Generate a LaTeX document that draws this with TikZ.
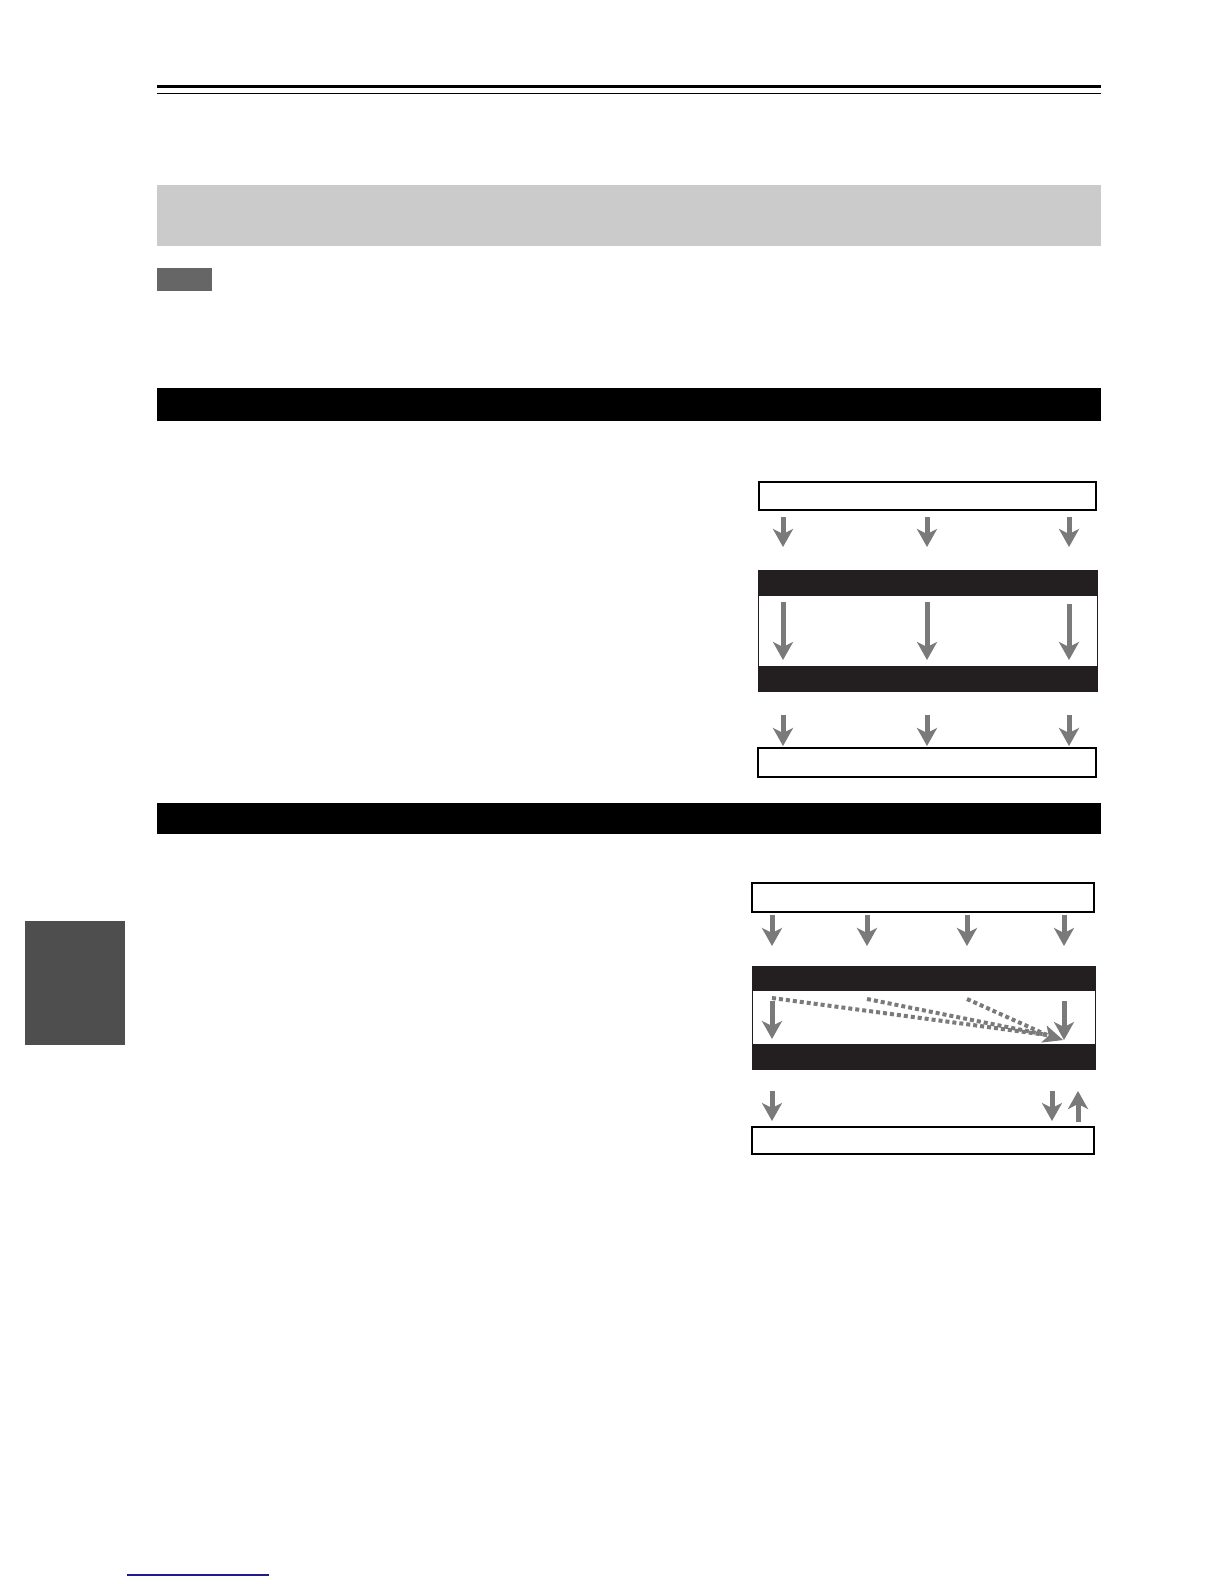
\documentclass[tikz,border=0pt]{standalone}
\usetikzlibrary{arrows.meta}
\definecolor{arrowgrey}{HTML}{7A7A7A}
\definecolor{bandgrey}{HTML}{CBCBCB}
\definecolor{notegrey}{HTML}{666666}
\definecolor{tabgrey}{HTML}{4E4E4E}
\definecolor{barblack}{HTML}{231F20}
\definecolor{linkblue}{HTML}{1C1C8A}
\tikzset{
  outbox/.style={draw=black, line width=1.1pt, fill=white, inner sep=0pt},
  framebox/.style={draw=barblack, line width=0.9pt, fill=white, inner sep=0pt},
  garrow/.style={draw=arrowgrey, line width=5pt, -{Stealth[length=18pt,width=20pt,inset=5pt]}},
  dotline/.style={draw=arrowgrey, line width=4pt, dash pattern=on 4pt off 3pt},
}
\begin{document}
\begin{tikzpicture}[x=1pt,y=-1pt]
\useasboundingbox (0,0) rectangle (1224,1584);
\fill[white] (0,0) rectangle (1224,1584);

% header rules
\fill[black] (157,85) rectangle (1101,88);
\fill[black] (157,92.6) rectangle (1101,94);

% grey band and note tag
\fill[bandgrey] (157,185) rectangle (1101,246);
\fill[notegrey] (157,268) rectangle (212,291);

% section bars
\fill[black] (157,388) rectangle (1101,421);
\fill[black] (157,803) rectangle (1101,834);

% side tab
\fill[tabgrey] (25,921) rectangle (125,1045);

% bottom link line
\draw[linkblue, line width=1.5pt] (127,1575) -- (269,1575);

% ---------- diagram 1 ----------
\node[outbox, minimum width=337pt, minimum height=28pt] (atop) at (927.5,496) {};
\node[framebox, minimum width=339pt, minimum height=121pt] (aframe) at (927.5,630.5) {};
\fill[barblack] (758,570) rectangle (1097,596);
\fill[barblack] (758,666) rectangle (1097,691);
\node[outbox, minimum width=338pt, minimum height=29pt] (abot) at (927,762.5) {};

\foreach \x/\n in {783/a, 927/b, 1069/c}{
  \coordinate (a1s\n) at (\x,517);
  \coordinate (a1e\n) at (\x,547);
  \draw[garrow] (a1s\n) -- (a1e\n);
  \coordinate (a3s\n) at (\x,715);
  \coordinate (a3e\n) at (\x,746);
  \draw[garrow] (a3s\n) -- (a3e\n);
}
\coordinate (a2sa) at (783,602); \coordinate (a2ea) at (783,660);
\coordinate (a2sb) at (927,602); \coordinate (a2eb) at (927,660);
\coordinate (a2sc) at (1069,604); \coordinate (a2ec) at (1069,660);
\draw[garrow] (a2sa) -- (a2ea);
\draw[garrow] (a2sb) -- (a2eb);
\draw[garrow] (a2sc) -- (a2ec);

% ---------- diagram 2 ----------
\node[outbox, minimum width=342pt, minimum height=29pt] (btop) at (923,897.5) {};
\node[framebox, minimum width=343pt, minimum height=103pt] (bframe) at (923.5,1017.5) {};
\fill[barblack] (752,966) rectangle (1095,991);
\fill[barblack] (752,1044) rectangle (1095,1069);
\node[outbox, minimum width=342pt, minimum height=27pt] (bbot) at (923,1140.5) {};

\foreach \x/\n in {772/a, 867/b, 967/c, 1064/d}{
  \coordinate (b1s\n) at (\x,915);
  \coordinate (b1e\n) at (\x,946);
  \draw[garrow] (b1s\n) -- (b1e\n);
}
% solid inner arrows
\coordinate (b2sa) at (772,1001); \coordinate (b2ea) at (772,1039);
\coordinate (b2sd) at (1064,1001); \coordinate (b2ed) at (1064,1040);
\draw[garrow] (b2sa) -- (b2ea);
\draw[garrow] (b2sd) -- (b2ed);
% dotted downmix lines
\coordinate (dA) at (772,998);
\coordinate (dB) at (867,999);
\coordinate (dC) at (967,999);
\coordinate (dEnd) at (1047,1035);
\coordinate (dTip) at (1063,1040);
\draw[dotline] (dA) -- (dEnd);
\draw[dotline] (dB) -- (dEnd);
\draw[dotline] (dC) -- (dEnd);
\fill[arrowgrey] (dTip) -- (1041.2,1042.6) -- (1048.7,1035.5) -- (1046.6,1025.4) -- cycle;

% bottom row
\coordinate (b3sa) at (772,1091); \coordinate (b3ea) at (772,1121);
\coordinate (b3sd) at (1052,1091); \coordinate (b3ed) at (1052,1121);
\coordinate (b3su) at (1078,1122); \coordinate (b3eu) at (1078,1091);
\draw[garrow] (b3sa) -- (b3ea);
\draw[garrow] (b3sd) -- (b3ed);
\draw[garrow] (b3su) -- (b3eu);
\end{tikzpicture}
\end{document}
